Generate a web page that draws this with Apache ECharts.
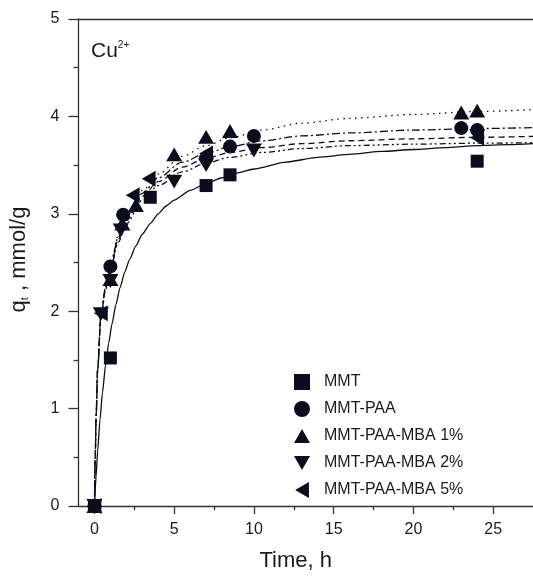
<!DOCTYPE html>
<html><head><meta charset="utf-8">
<script src="https://cdn.jsdelivr.net/npm/echarts@6/dist/echarts.min.js"></script>
<style>html,body{margin:0;padding:0;background:#fff}#c{width:533px;height:577px}</style>
</head><body><div id="c"></div>
<script>
// ---- data ----
const seriesNames = ['MMT','MMT-PAA','MMT-PAA-MBA 1%','MMT-PAA-MBA 2%','MMT-PAA-MBA 5%'];
const mmtPts  = [[0,0],[1,1.52],[3.5,3.17],[7,3.29],[8.5,3.40],[24,3.54]];
const paaPts  = [[0,0],[1,2.46],[1.8,2.99],[7,3.57],[8.5,3.69],[10,3.80],[23,3.88],[24,3.86]];
const mba1Pts = [[0,0],[1,2.33],[1.75,2.90],[2.6,3.09],[5,3.61],[7,3.79],[8.5,3.85],[23,4.04],[24,4.06]];
const mba2Pts = [[0,0],[0.4,1.97],[1,2.31],[1.65,2.83],[5,3.33],[7,3.50],[10,3.65],[24,3.80]];
const mba5Pts = [[0,0],[0.4,1.98],[2.4,3.19],[3.4,3.36],[7,3.62],[24,3.78]];

// fitted curves
const mmtFit  = [[0,0],[0.1,0.30],[0.2,0.56],[0.35,0.89],[0.5,1.16],[0.7,1.45],[0.9,1.68],[1.1,1.87],[1.35,2.07],[1.6,2.24],[1.9,2.40],[2.2,2.53],[2.6,2.67],[3,2.79],[3.5,2.90],[4,3.00],[4.5,3.08],[5,3.14],[6,3.24],[7,3.31],[8,3.37],[9,3.42],[10,3.46],[12,3.53],[14,3.58],[16,3.61],[18,3.64],[20,3.66],[22,3.68],[24,3.70],[26,3.71],[27.5,3.72]];
const paaFit  = [[0,0],[0.05,0.5],[0.1,0.9],[0.2,1.4],[0.4,1.95],[0.7,2.25],[1,2.47],[1.5,2.76],[2,2.96],[3,3.21],[4,3.37],[5.5,3.53],[7,3.62],[8.5,3.69],[10.5,3.75],[13,3.80],[16,3.83],[20,3.86],[24,3.875],[27.5,3.885]];
const mba1Fit = [[0,0],[0.05,0.5],[0.1,0.9],[0.2,1.4],[0.4,1.95],[0.7,2.25],[1,2.48],[1.5,2.78],[2,2.98],[3,3.24],[4,3.41],[5.5,3.59],[7,3.70],[8.5,3.78],[10.5,3.86],[13,3.93],[16,3.98],[20,4.02],[24,4.05],[27.5,4.07]];
const mba2Fit = [[0,0],[0.05,0.5],[0.1,0.9],[0.2,1.4],[0.4,1.94],[0.7,2.23],[1,2.45],[1.5,2.74],[2,2.93],[3,3.18],[4,3.33],[5.5,3.48],[7,3.57],[8.5,3.63],[10.5,3.68],[13,3.72],[16,3.75],[20,3.77],[24,3.785],[27.5,3.795]];
const mba5Fit = [[0,0],[0.05,0.5],[0.1,0.9],[0.2,1.4],[0.4,1.93],[0.7,2.22],[1,2.43],[1.5,2.71],[2,2.90],[3,3.14],[4,3.29],[5.5,3.43],[7,3.52],[8.5,3.58],[10.5,3.63],[13,3.67],[16,3.70],[20,3.715],[24,3.725],[27.5,3.73]];

const xMajorTicks = [0,5,10,15,20,25];
const xMinorTicks = [2.5,7.5,12.5,17.5,22.5];
const xLimits = [-1, 27.5];
const yLimits = [0, 5];

// ---- chart ----
const INK = '#0b0c1c';
const AX = '#333';
const FONT = 'Liberation Sans, Arial, sans-serif';
const chart = echarts.init(document.getElementById('c'), null, {renderer:'canvas'});

const pts = [mmtPts, paaPts, mba1Pts, mba2Pts, mba5Pts];
const fits = [mmtFit, paaFit, mba1Fit, mba2Fit, mba5Fit];
const symbols = ['rect','circle',
  'path://M5,0L10,8.66L0,8.66Z',
  'path://M0,0L10,0L5,8.66Z',
  'path://M8.66,0L8.66,10L0,5Z'];
const sizes = [13,14,16,16,16];
const dashes = ['solid',[8,3,2,3],[1.5,4.5],[6,4],[6,3,2,3,2,3]];
const smooths = [0.2,0.3,0.3,0.3,0.3];

const series = [];
fits.forEach((f,i)=>{
  series.push({type:'line', data:f, smooth:smooths[i], smoothMonotone:'x', showSymbol:false, silent:true,
    lineStyle:{color:INK, width:1.3, type:dashes[i]}, z:2});
});
pts.forEach((p,i)=>{
  series.push({name:seriesNames[i], type:'scatter', data:p, symbol:symbols[i], symbolKeepAspect:true,
    symbolSize:sizes[i], itemStyle:{color:INK, opacity:1}, z:5});
});

chart.setOption({
  animation:false,
  backgroundColor:'#fff',
  title:{text:'{a|Cu}{b|2+}', left:86, top:35,
    textStyle:{fontWeight:'normal', rich:{a:{fontSize:21, fontWeight:'normal', fontFamily:FONT, color:'#1a1a1a'}, b:{fontSize:10, fontWeight:'normal', fontFamily:FONT, color:'#1a1a1a', verticalAlign:'top', padding:[0,0,12,0]}}}},
  grid:{left:76, top:19, right:0, bottom:67, containLabel:false},
  legend:{data:seriesNames, orient:'vertical', left:289, top:369, itemGap:11, itemWidth:16, itemHeight:16,
    textStyle:{fontSize:16, fontFamily:FONT, color:'#1a1a1a', padding:[0,0,0,9]}},
  xAxis:[
    {type:'value', min:xLimits[0], max:xLimits[1], position:'bottom',
     name:'Time, h', nameLocation:'middle', nameGap:44,
     nameTextStyle:{fontSize:22, fontFamily:FONT, color:'#1a1a1a', padding:[0,20,0,0]},
     axisLine:{show:true, onZero:false, lineStyle:{color:AX, width:1.3}},
     axisTick:{show:true, inside:false, length:8, customValues:xMajorTicks, lineStyle:{color:AX, width:1.3}},
     axisLabel:{show:true, customValues:xMajorTicks, margin:16, fontSize:16, fontFamily:FONT, color:'#1a1a1a'},
     splitLine:{show:false}},
    {type:'value', min:xLimits[0], max:xLimits[1], position:'bottom',
     axisLine:{show:false, onZero:false},
     axisTick:{show:true, inside:false, length:4, customValues:xMinorTicks, lineStyle:{color:AX, width:1.3}},
     axisLabel:{show:false}, splitLine:{show:false}},
    {type:'value', min:xLimits[0], max:xLimits[1], position:'top',
     axisLine:{show:true, onZero:false, lineStyle:{color:AX, width:1.3}},
     axisTick:{show:false}, axisLabel:{show:false}, splitLine:{show:false}}
  ],
  yAxis:{type:'value', min:yLimits[0], max:yLimits[1], interval:1,
    name:'{a|q}{b|t}{a| , mmol/g}', nameLocation:'middle', nameGap:48, nameRotate:90,
    nameTextStyle:{padding:[0,0,0,6], rich:{a:{fontSize:22, fontFamily:FONT, color:'#1a1a1a'}, b:{fontSize:11, fontFamily:FONT, color:'#1a1a1a', verticalAlign:'bottom', padding:[12,0,0,0]}}},
    axisLine:{show:true, onZero:false, lineStyle:{color:AX, width:1.3}},
    axisTick:{show:true, inside:false, length:10, lineStyle:{color:AX, width:1.3}},
    minorTick:{show:true, splitNumber:2, length:5, lineStyle:{color:AX, width:1.3}},
    axisLabel:{margin:19, fontSize:16, fontFamily:FONT, color:'#1a1a1a'},
    splitLine:{show:false}, minorSplitLine:{show:false}},
  series:series
});
</script></body></html>
